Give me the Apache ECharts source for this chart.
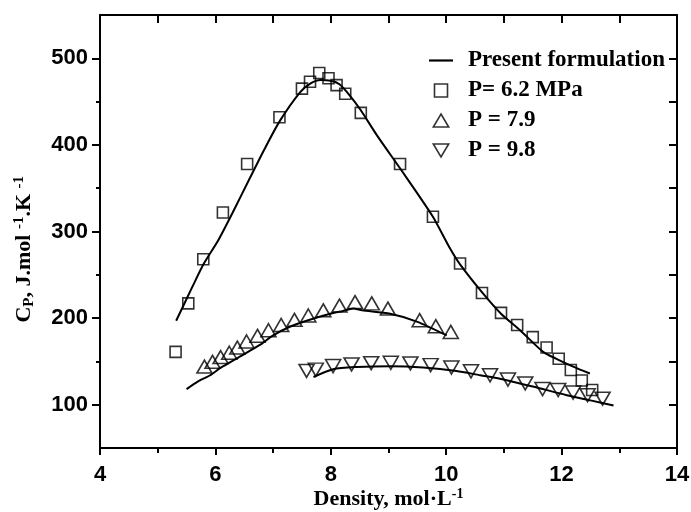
<!DOCTYPE html>
<html>
<head>
<meta charset="utf-8">
<script src="https://cdn.jsdelivr.net/npm/echarts@6/dist/echarts.min.js"></script>
<style>html,body{margin:0;padding:0;background:#fff;}#c{width:691px;height:512px;}</style>
</head>
<body>
<div id="c"></div>
<script>
// ---- data ----
const xTicks = [4, 6, 8, 10, 12, 14];
const yTicks = [100, 200, 300, 400, 500];
const minorY = [150, 250, 350, 450];
const legendNames = ['Present formulation', 'P= 6.2 MPa', 'P = 7.9', 'P = 9.8'];

const pts62 = [[5.31,161],[5.53,217],[5.79,268],[6.13,322],[6.55,378],[7.11,432],[7.50,465],[7.64,473],[7.80,483],[7.96,477],[8.10,469],[8.25,459],[8.52,437],[9.20,378],[9.77,317],[10.24,263],[10.62,229],[10.95,206],[11.23,192],[11.50,178],[11.74,166],[11.95,153],[12.16,140],[12.35,128],[12.53,117]];
const pts79 = [[5.81,144],[5.95,149.5],[6.09,155],[6.24,160],[6.38,166],[6.54,173],[6.73,179.5],[6.92,186],[7.14,192],[7.37,198],[7.61,203],[7.87,209],[8.15,214.5],[8.42,218.5],[8.71,217],[8.99,211],[9.54,197.6],[9.82,190.7],[10.08,184]];
const pts98 = [[7.58,139],[7.74,140.5],[8.04,144.6],[8.36,146.5],[8.70,148],[9.04,148.4],[9.38,147.7],[9.73,145.7],[10.09,143],[10.43,138.5],[10.76,134],[11.07,129],[11.37,124.6],[11.67,118],[11.94,117],[12.20,114],[12.45,111],[12.71,107]];

const fit62 = [[5.32,197],[5.6,236],[5.8,263],[6.05,290],[6.3,322],[6.6,362],[6.85,395],[7.12,428],[7.47,461],[7.65,471],[7.82,475],[8.0,474],[8.15,470],[8.33,457],[8.52,440],[8.8,411],[9.2,373],[9.5,344],[9.77,317],[10.07,280],[10.24,262],[10.63,229],[10.95,205],[11.28,186],[11.68,161],[11.91,153],[12.2,144],[12.49,136]];
const fit79 = [[5.5,118],[5.7,127],[5.91,134],[6.1,143],[6.37,153.5],[6.77,169],[7.0,180],[7.29,190],[7.58,197],[7.99,205],[8.2,208],[8.39,211],[8.54,209],[9.03,205],[9.49,196],[10.01,180]];
const fit98 = [[7.7,132],[8.04,141],[8.45,143.5],[9.03,144.5],[9.6,143],[10.18,139],[10.59,134],[10.93,130],[11.5,121],[12.09,111],[12.5,105],[12.9,99]];

const chart = echarts.init(document.getElementById('c'), null, {renderer: 'canvas'});
const serif = '"Liberation Serif", "Times New Roman", serif';
const sans = '"Liberation Sans", Arial, sans-serif';
const black = '#000';
const hollow = {color: 'rgba(255,255,255,0)', borderColor: black, borderWidth: 1.6};

const lineSeries = (data) => ({
  name: legendNames[0], type: 'line', data: data, smooth: 0.25,
  showSymbol: false, symbol: 'none', xAxisIndex: 0, yAxisIndex: 0,
  lineStyle: {color: black, width: 2}, itemStyle: {color: black}, z: 3, silent: true
});
const scatterSeries = (name, data, sym, size, rot) => ({
  name: name, type: 'scatter', data: data, symbol: sym, symbolSize: size,
  symbolRotate: rot, xAxisIndex: 0, yAxisIndex: 0, z: 4, itemStyle: hollow
});

chart.setOption({
  animation: false,
  backgroundColor: '#fff',
  grid: {left: 100, right: 14, top: 15, bottom: 64, containLabel: false, outerBoundsMode: 'none'},
  legend: {
    orient: 'vertical', left: 424, top: 44, itemGap: 7,
    itemWidth: 24, itemHeight: 13, symbolRotate: 0,
    textStyle: {fontFamily: serif, fontWeight: 'bold', fontSize: 23, color: black, padding: [0,0,0,10]},
    data: [
      {name: legendNames[0], icon: 'path://M0,0H22V2H0Z', itemStyle: {color: black}},
      {name: legendNames[1], icon: 'path://M0,0H11V11H0Z', itemStyle: hollow, symbolRotate: 0},
      {name: legendNames[2], icon: 'path://M6.5,0L13,11H0Z', itemStyle: hollow, symbolRotate: 0},
      {name: legendNames[3], icon: 'path://M0,0H13L6.5,11Z', itemStyle: hollow, symbolRotate: 0}
    ]
  },
  xAxis: [
    {
      type: 'value', position: 'bottom', min: 4, max: 14, interval: 2,
      axisLine: {show: true, lineStyle: {color: black, width: 2}},
      axisTick: {show: true, inside: false, length: 7, lineStyle: {color: black, width: 2}},
      minorTick: {show: true, splitNumber: 2, length: 5, lineStyle: {color: black, width: 2}},
      splitLine: {show: false},
      axisLabel: {show: true, margin: 16, fontFamily: sans, fontWeight: 'bold', fontSize: 22, color: black,
        customValues: xTicks},
      name: '{t|Density, mol·L}{s|-1}', nameLocation: 'middle', nameGap: 39, nameMoveOverlap: false,
      nameTextStyle: {rich: {
        t: {fontFamily: serif, fontWeight: 'bold', fontSize: 22, color: black},
        s: {fontFamily: serif, fontWeight: 'bold', fontSize: 14, color: black, padding: [0,0,10,0]}
      }}
    },
    {
      type: 'value', position: 'top', min: 4, max: 14, interval: 1,
      axisLine: {show: true, lineStyle: {color: black, width: 2}},
      axisTick: {show: true, inside: true, length: 8, lineStyle: {color: black, width: 2}},
      axisLabel: {show: false}, splitLine: {show: false}
    }
  ],
  yAxis: [
    {
      type: 'value', position: 'left', min: 50, max: 550,
      axisLine: {show: true, lineStyle: {color: black, width: 2}},
      axisTick: {show: true, inside: false, length: 8, lineStyle: {color: black, width: 2}, customValues: yTicks},
      axisLabel: {show: true, margin: 12, fontFamily: sans, fontWeight: 'bold', fontSize: 22, color: black, customValues: yTicks},
      splitLine: {show: false}
    },
    {
      type: 'value', position: 'left', min: 50, max: 550,
      axisLine: {show: false},
      axisTick: {show: true, inside: false, length: 4, lineStyle: {color: black, width: 2}, customValues: minorY},
      axisLabel: {show: false}, splitLine: {show: false}
    },
    {
      type: 'value', position: 'right', min: 50, max: 550, interval: 50,
      axisLine: {show: true, lineStyle: {color: black, width: 2}},
      axisTick: {show: true, inside: true, length: 8, lineStyle: {color: black, width: 2}},
      axisLabel: {show: false}, splitLine: {show: false}
    }
  ],
  graphic: [{
    type: 'text', left: 12, top: 176, rotation: Math.PI / 2,
    originX: 0, originY: 0,
    style: {
      text: '{b|C}{s|P}{b|, J.mol }{u|-1}{b|.K }{u|-1}',
      rich: {
        b: {fontFamily: serif, fontWeight: 'bold', fontSize: 22, fill: black},
        s: {fontFamily: serif, fontWeight: 'bold', fontSize: 15, fill: black, padding: [10,0,0,0]},
        u: {fontFamily: serif, fontWeight: 'bold', fontSize: 15, fill: black, padding: [0,0,10,0]}
      }
    }
  }],
  series: [
    lineSeries(fit62),
    lineSeries(fit79),
    lineSeries(fit98),
    scatterSeries(legendNames[1], pts62, 'rect', 11, 0),
    scatterSeries(legendNames[2], pts79, 'triangle', [15, 13], 0),
    scatterSeries(legendNames[3], pts98, 'triangle', [15, 13], 180)
  ]
});
</script>
</body>
</html>
